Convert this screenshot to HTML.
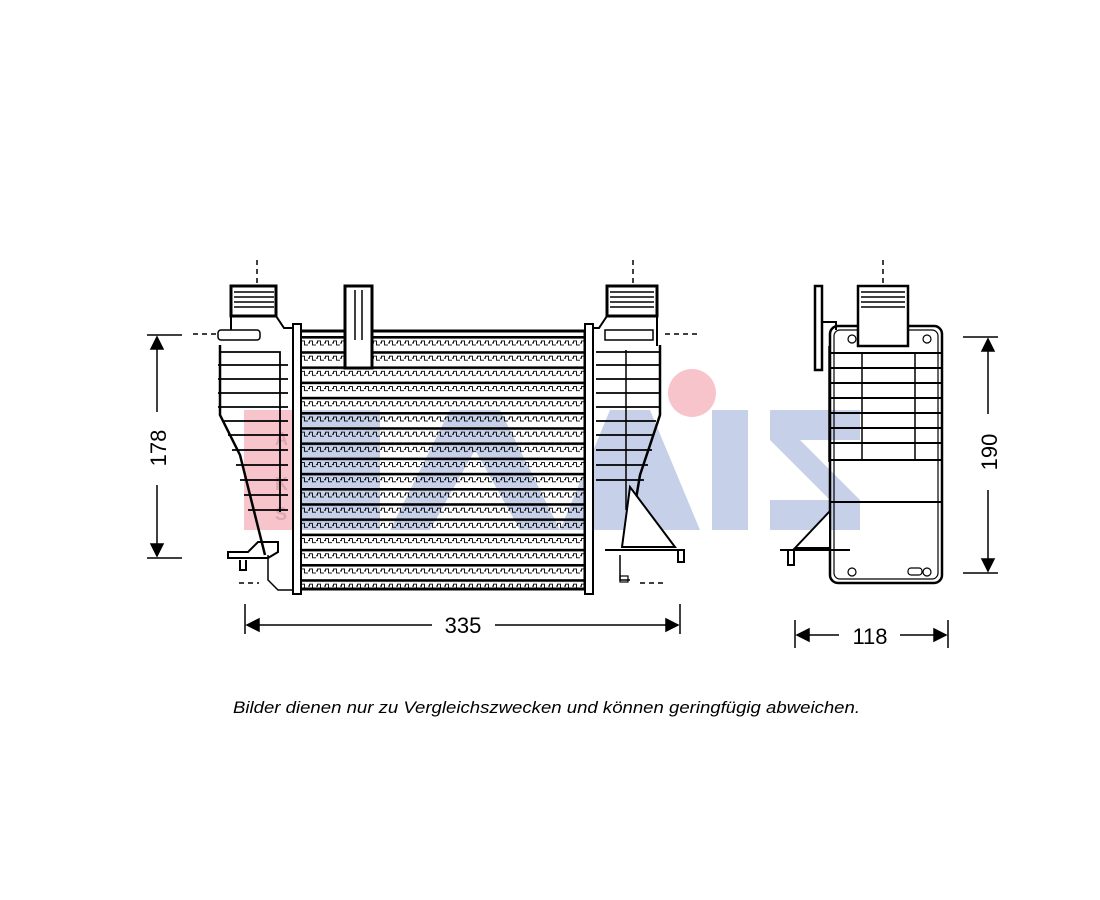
<!DOCTYPE html>
<html><head><meta charset="utf-8"><style>
html,body{margin:0;padding:0;background:#fff;width:1100px;height:900px;overflow:hidden}
svg{display:block}
</style></head><body>
<svg width="1100" height="900" viewBox="0 0 1100 900" xmlns="http://www.w3.org/2000/svg">
<defs>
<pattern id="fin" x="300" y="336" width="8" height="15.2" patternUnits="userSpaceOnUse">
<rect x="0" y="0" width="8" height="2.6" fill="#000"/>
<path d="M0,7 h1.5 v-2 h3 v4 h3.5" fill="none" stroke="#000" stroke-width="0.9"/>
</pattern>
</defs>
<g opacity="0.5">
<rect x="244" y="410" width="48" height="120" fill="#f08a9a"/>
<rect x="300" y="410" width="80" height="120" fill="#8fa2d4"/>
<polygon points="390,530 450,410 500,410 560,530 520,530 475,450 430,530" fill="#8fa2d4"/>
<polygon points="560,530 610,410 650,410 700,530" fill="#8fa2d4"/>
<circle cx="692" cy="393" r="24" fill="#f08a9a"/>
<rect x="712" y="410" width="36" height="120" fill="#8fa2d4"/>
<polygon points="770,410 860,410 860,440 800,440 860,500 860,530 770,530 770,500 830,500 770,440" fill="#8fa2d4"/>
</g>
<text x="275" y="445" font-family="Liberation Sans,sans-serif" font-size="18" font-weight="bold" fill="#d9a0a8" opacity="0.8">A</text>
<text x="275" y="490" font-family="Liberation Sans,sans-serif" font-size="18" font-weight="bold" fill="#d9a0a8" opacity="0.8">K</text>
<text x="275" y="520" font-family="Liberation Sans,sans-serif" font-size="18" font-weight="bold" fill="#d9a0a8" opacity="0.8">S</text>

<g fill="none" stroke="#000" stroke-width="2">
<rect x="300" y="331" width="285" height="258" fill="url(#fin)" stroke-width="3"/>
<rect x="293" y="324" width="8" height="270" fill="#fff"/>
<rect x="585" y="324" width="8" height="270" fill="#fff"/>
<rect x="345" y="286" width="27" height="82" fill="#fff" stroke-width="3"/>
<path d="M355,290 v50 M362,290 v50" stroke-width="1.5"/>
<rect x="231" y="286" width="45" height="30" fill="#fff" stroke-width="3"/>
<path d="M234,292 h40 M234,297 h40 M234,302 h40 M234,307 h40" stroke-width="1.5"/>
<path d="M231,316 v20 M276,316 l8,12 h9" stroke-width="2"/>
<rect x="218" y="330" width="42" height="10" rx="3" fill="#fff" stroke-width="1.5"/>
<path d="M220,352 h60 v160 M218,365 h70 M218,379 h70 M218,393 h70 M218,407 h70 M222,421 h66 M228,435 h60 M232,450 h56 M236,465 h52 M240,480 h48 M244,495 h44 M248,510 h40" stroke-width="1.8"/>
<path d="M220,345 v70 l20,40 l25,100" stroke-width="2.5"/>
<path d="M228,552 h20 l10,-10 h20 v10 l-10,6 h-40 z" stroke-width="2"/>
<path d="M240,560 v10 h6 v-10" stroke-width="2"/>
<path d="M268,555 v25 l10,10 h15" stroke-width="1.5"/>
<rect x="607" y="286" width="50" height="30" fill="#fff" stroke-width="3"/>
<path d="M610,292 h44 M610,297 h44 M610,302 h44 M610,307 h44" stroke-width="1.5"/>
<path d="M657,316 v30 M607,316 l-8,12 h-6" stroke-width="2"/>
<path d="M605,330 h48 v10 h-48 z" stroke-width="1.5"/>
<path d="M596,352 h64 M596,365 h64 M596,379 h64 M596,393 h64 M596,407 h64 M596,421 h60 M596,435 h58 M596,450 h56 M596,465 h52 M596,480 h48" stroke-width="1.8"/>
<path d="M660,345 v70 l-20,60 l-10,60" stroke-width="2.5"/>
<path d="M626,350 v160" stroke-width="1.5"/>
<path d="M630,487 l45,60 h-53 z" fill="#fff" stroke-width="2"/>
<path d="M605,550 h80 M678,550 v12 h6 v-12" stroke-width="2"/>
<path d="M620,555 v25 h10" stroke-width="1.5"/>
<rect x="620" y="576" width="8" height="6" stroke-width="1.2"/>
<rect x="830" y="326" width="112" height="257" rx="8" fill="none" stroke-width="2.5"/>
<rect x="834" y="330" width="104" height="249" rx="6" stroke-width="1.2"/>
<rect x="815" y="286" width="7" height="84" fill="#fff" stroke-width="2.5"/>
<path d="M822,322 h14 v8" stroke-width="2"/>
<rect x="858" y="286" width="50" height="60" fill="#fff" stroke-width="2.5"/>
<path d="M861,292 h44 M861,297 h44 M861,302 h44 M861,307 h44" stroke-width="1.5"/>
<path d="M829,353 h112 M829,368 h112 M829,383 h112 M829,398 h112 M829,413 h112 M829,428 h112 M829,443 h112 M829,460 h112 M829,502 h112" stroke-width="2"/>
<path d="M829,346 v116 M862,353 v107 M915,353 v107" stroke-width="1.5"/>
<path d="M795,548 l35,-37 v37 z" fill="#fff" stroke-width="2"/>
<path d="M780,550 h70 M788,550 v15 h6 v-15" stroke-width="2"/>
<circle cx="852" cy="339" r="4" stroke-width="1.2"/><circle cx="927" cy="339" r="4" stroke-width="1.2"/>
<circle cx="852" cy="572" r="4" stroke-width="1.2"/><circle cx="927" cy="572" r="4" stroke-width="1.2"/>
<rect x="908" y="568" width="14" height="7" rx="3" stroke-width="1.2"/>
</g>
<g stroke="#000" stroke-width="1.5" stroke-dasharray="5,4" fill="none">
<path d="M257,260 v26 M633,260 v26 M883,260 v26 M193,334 h25 M665,334 h35 M239,583 h20 M640,583 h25"/>
</g>
<g stroke="#000" stroke-width="1.5" fill="#000">
<path d="M147,335 h35 M147,558 h35 M157,337 v75 M157,485 v71"/>
<path d="M157,337 l-6,12 h12 z M157,556 l-6,-12 h12 z"/>
<path d="M963,337 h35 M963,573 h35 M988,339 v75 M988,490 v81"/>
<path d="M988,339 l-6,12 h12 z M988,571 l-6,-12 h12 z"/>
<path d="M245,604 v30 M680,604 v30 M247,625 h185 M495,625 h183"/>
<path d="M247,625 l12,-6 v12 z M678,625 l-12,-6 v12 z"/>
<path d="M795,620 v28 M948,620 v28 M797,635 h42 M900,635 h46"/>
<path d="M797,635 l12,-6 v12 z M946,635 l-12,-6 v12 z"/>
</g>
<g font-family="Liberation Sans,DejaVu Sans,sans-serif" font-size="22" fill="#000">
<text x="463" y="633" text-anchor="middle">335</text>
<text x="870" y="644" text-anchor="middle">118</text>
<text transform="translate(166,448) rotate(-90)" text-anchor="middle">178</text>
<text transform="translate(997,452) rotate(-90)" text-anchor="middle">190</text>
</g>
<text x="233" y="713" font-family="Liberation Sans Narrow,Liberation Sans,sans-serif" font-style="italic" font-size="17" fill="#000" textLength="627" lengthAdjust="spacingAndGlyphs">Bilder dienen nur zu Vergleichszwecken und können geringfügig abweichen.</text>
</svg>
</body></html>
